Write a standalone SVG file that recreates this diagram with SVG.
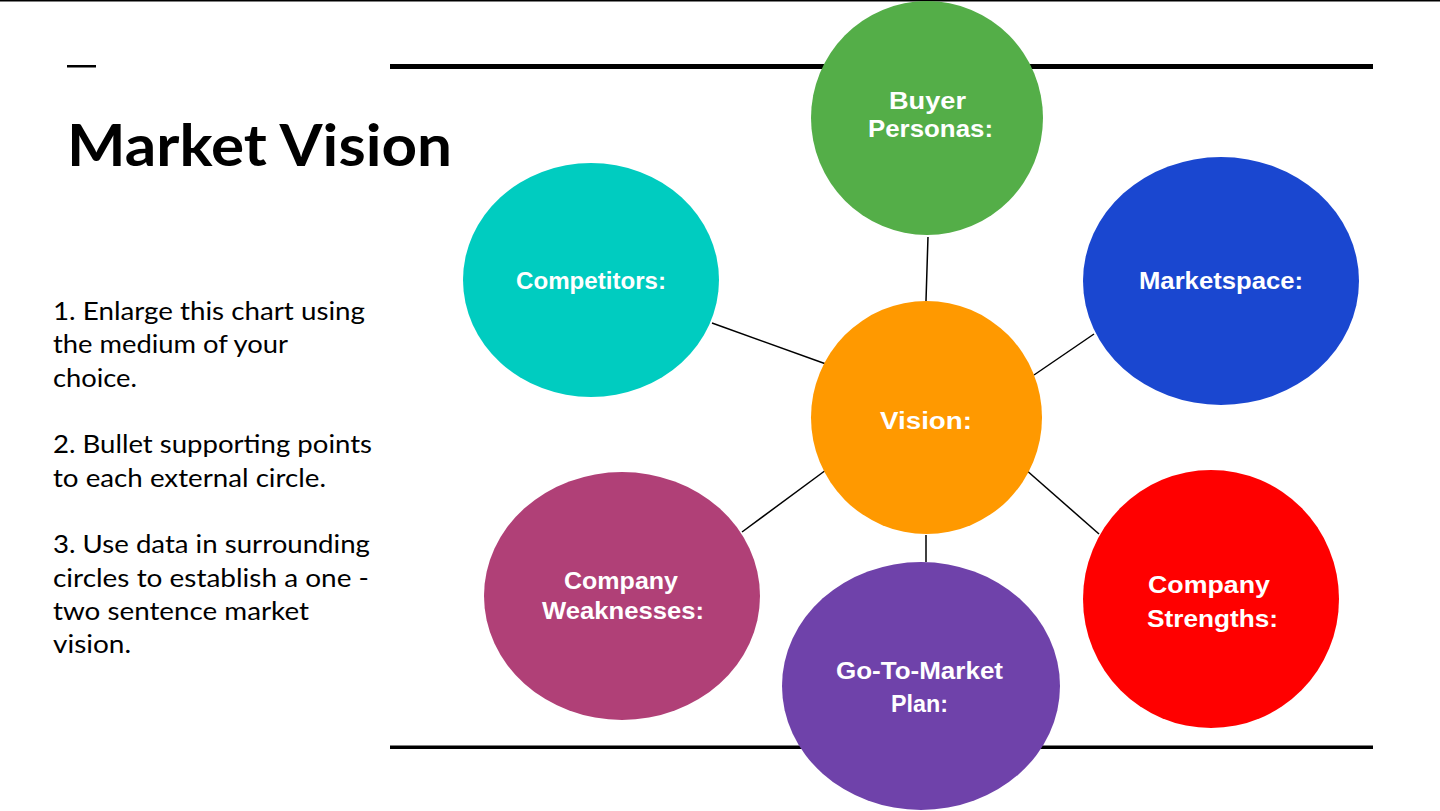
<svg xmlns="http://www.w3.org/2000/svg" width="1440" height="811" viewBox="0 0 1440 811">
<style>
.lbl{font-family:"Liberation Sans",Arial,sans-serif;font-weight:700;font-size:24px;fill:#fff;text-anchor:middle}
.body{font-family:Lato,"Liberation Sans",sans-serif;font-size:25px;fill:#000}
.conn line{stroke:#000;stroke-width:1.5}
</style>
<rect x="0" y="0" width="1440" height="811" fill="#fff"/>
<rect x="0" y="0" width="1440" height="1.5" fill="#000"/>
<rect x="67" y="65" width="29" height="2.5" fill="#000"/>
<rect x="390" y="64" width="983" height="5" fill="#000"/>
<rect x="390" y="745.5" width="983" height="3.5" fill="#000"/>
<text x="67" y="166" font-family="Lato,'Liberation Sans',sans-serif" font-weight="700" font-size="58" textLength="385" lengthAdjust="spacingAndGlyphs">Market Vision</text>
<g id="instructions" class="body">
<text x="53" y="320" textLength="312" lengthAdjust="spacingAndGlyphs">1. Enlarge this chart using</text>
<text x="53" y="353" textLength="235" lengthAdjust="spacingAndGlyphs">the medium of your</text>
<text x="53" y="387" textLength="84" lengthAdjust="spacingAndGlyphs">choice.</text>
<text x="53" y="453" textLength="319" lengthAdjust="spacingAndGlyphs">2. Bullet supporting points</text>
<text x="53" y="487" textLength="273" lengthAdjust="spacingAndGlyphs">to each external circle.</text>
<text x="53" y="553" textLength="317" lengthAdjust="spacingAndGlyphs">3. Use data in surrounding</text>
<text x="53" y="587" textLength="316" lengthAdjust="spacingAndGlyphs">circles to establish a one -</text>
<text x="53" y="620" textLength="256" lengthAdjust="spacingAndGlyphs">two sentence market</text>
<text x="53" y="653" textLength="78" lengthAdjust="spacingAndGlyphs">vision.</text>
</g>
<g id="connectors" class="conn">
<line x1="928" y1="237" x2="926" y2="301"/>
<line x1="712" y1="323" x2="826" y2="364"/>
<line x1="1094" y1="334" x2="1034" y2="375"/>
<line x1="742" y1="532" x2="826" y2="470"/>
<line x1="1025" y1="469" x2="1099" y2="534"/>
<line x1="926" y1="535" x2="926" y2="562"/>
</g>
<g id="buyer">
<ellipse cx="927" cy="118" rx="116" ry="117" fill="#54AE48"/>
<text class="lbl" x="927.5" y="109" textLength="77" lengthAdjust="spacingAndGlyphs">Buyer</text>
<text class="lbl" x="930.5" y="137" textLength="125" lengthAdjust="spacingAndGlyphs">Personas:</text>
</g>
<g id="competitors">
<ellipse cx="591" cy="280" rx="128" ry="117" fill="#00CCC0"/>
<text class="lbl" x="591" y="289" textLength="150" lengthAdjust="spacingAndGlyphs">Competitors:</text>
</g>
<g id="marketspace">
<ellipse cx="1221" cy="281" rx="138" ry="124" fill="#1A47D0"/>
<text class="lbl" x="1221" y="289" textLength="164" lengthAdjust="spacingAndGlyphs">Marketspace:</text>
</g>
<g id="vision">
<ellipse cx="926.5" cy="417.5" rx="115.5" ry="116.5" fill="#FF9900"/>
<text class="lbl" x="926" y="429" font-size="27" textLength="92" lengthAdjust="spacingAndGlyphs">Vision:</text>
</g>
<g id="weaknesses">
<ellipse cx="622" cy="596" rx="138" ry="124" fill="#B04077"/>
<text class="lbl" x="621" y="589" textLength="114" lengthAdjust="spacingAndGlyphs">Company</text>
<text class="lbl" x="623" y="619" textLength="162" lengthAdjust="spacingAndGlyphs">Weaknesses:</text>
</g>
<g id="gotomarket">
<ellipse cx="921" cy="686" rx="139" ry="124" fill="#6F42AA"/>
<text class="lbl" x="919.5" y="679" textLength="167" lengthAdjust="spacingAndGlyphs">Go-To-Market</text>
<text class="lbl" x="919.5" y="712" textLength="57" lengthAdjust="spacingAndGlyphs">Plan:</text>
</g>
<g id="strengths">
<ellipse cx="1211" cy="599" rx="128" ry="129" fill="#FF0000"/>
<text class="lbl" x="1209" y="593" font-size="25" textLength="122" lengthAdjust="spacingAndGlyphs">Company</text>
<text class="lbl" x="1212.5" y="627" font-size="25" textLength="131" lengthAdjust="spacingAndGlyphs">Strengths:</text>
</g>
</svg>
